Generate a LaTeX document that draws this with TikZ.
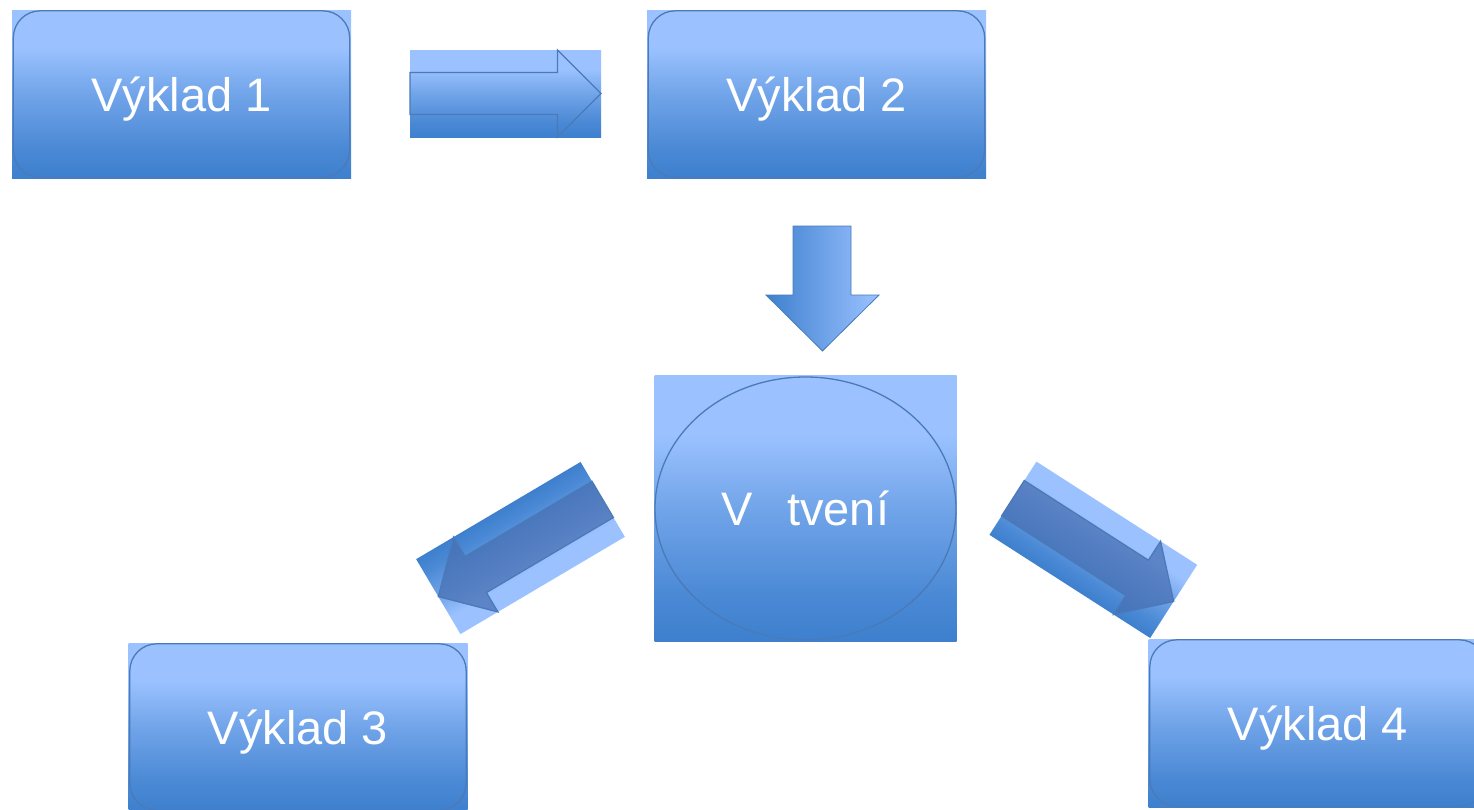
\documentclass[tikz,border=0pt]{standalone}
\usepackage{fontspec}
\setmainfont{Liberation Sans}
\usetikzlibrary{calc}
\definecolor{glight}{RGB}{155,194,255}
\definecolor{gdark}{RGB}{62,128,206}
\definecolor{outl}{RGB}{74,122,184}
\definecolor{arrin}{RGB}{72,112,180}
\pgfdeclareverticalshading{boxgrad}{100bp}{color(0bp)=(gdark); color(25bp)=(gdark); color(33bp)=(gdark!88!glight); color(50bp)=(gdark!45!glight); color(64bp)=(glight); color(75bp)=(glight); color(100bp)=(glight)}
\tikzset{
  box/.style={rectangle, shade, shading=boxgrad, draw=none, inner sep=0pt,
    minimum width=339pt, minimum height=168pt, text=white,
    font=\fontsize{47}{56}\selectfont, text height=34pt, text depth=0pt},
  outline/.style={draw=outl, line width=1.3pt},
  arrowfill/.style={fill=arrin, fill opacity=0.75, draw=outl, draw opacity=1, line width=1.3pt},
  arrowempty/.style={draw=outl, line width=1.3pt},
}
% block arrow in a gradient rectangle: centre x, centre y, angle, arrow style
\newcommand{\blockarrow}[4]{%
  \begin{scope}[transform canvas={shift={(#1,#2)},rotate=#3}]
    \shade[shading=boxgrad] (-95.5,-43.5) rectangle (95.5,43.5);
    \path[#4] (-95.5,-21) -- (52,-21) -- (52,-43.5) -- (95.5,0) -- (52,43.5)
      -- (52,21) -- (-95.5,21) -- cycle;
  \end{scope}}
\begin{document}
\begin{tikzpicture}[x=1pt,y=1pt]
\useasboundingbox (0,0) rectangle (1474,-809);
\clip (0,0) rectangle (1474,-809);
\fill[white] (0,0) rectangle (1474,-809);

% boxes
\node[box] (v1) at (181.5,-94) {Výklad 1};
\node[box] (v2) at (816.5,-94) {Výklad 2};
\node[box] (v3) at (298,-727) {Výklad 3};
\node[box] (v4) at (1318,-723) {Výklad 4};
\node[box, minimum width=302pt, minimum height=266pt] (vet) at (805.5,-508.5) {V\hspace{34pt}tvení};

% outlines
\foreach \n in {v1,v2,v3,v4}{
  \draw[outline, rounded corners=27pt] ([xshift=1.5pt,yshift=-1pt]\n.north west) rectangle ([xshift=-1.5pt,yshift=1pt]\n.south east);
}
\draw[outline] (vet.center) ellipse [x radius=150.5, y radius=131.5];

% block arrows
\blockarrow{505.5}{-93.5}{0}{arrowempty}
\blockarrow{520.5}{-548}{210.6}{arrowfill}
\blockarrow{1093.3}{-549.8}{-32.7}{arrowfill}

% down arrow
\shade[left color=gdark, right color=glight, draw=outl, line width=0.8pt]
  (793,-226) -- (851,-226) -- (851,-295) -- (879,-295) -- (822.5,-351)
  -- (766,-295) -- (793,-295) -- cycle;
\end{tikzpicture}
\end{document}
